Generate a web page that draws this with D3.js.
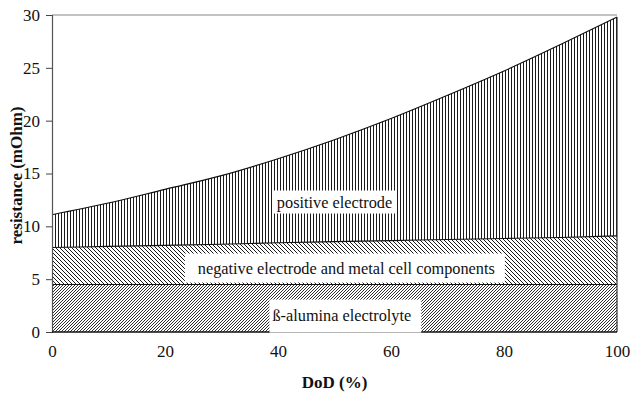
<!DOCTYPE html>
<html>
<head>
<meta charset="utf-8">
<script src="https://cdn.jsdelivr.net/npm/d3@7"></script>
<style>
  html, body { margin: 0; padding: 0; background: #fff; }
  svg { display: block; }
  svg text { font-family: "Liberation Serif", "DejaVu Serif", serif; fill: #111; }
</style>
</head>
<body>
<svg id="chart" width="630" height="394"></svg>
<script>
// Depth of discharge (%)
const dod = [0, 10, 20, 30, 40, 50, 60, 70, 80, 90, 100];
// Resistance contributions (mOhm), stacked bottom to top
const aluminaElectrolyte = [4.5, 4.5, 4.5, 4.5, 4.5, 4.5, 4.5, 4.5, 4.5, 4.5, 4.5];
const negativeElectrode = [3.5, 3.6, 3.7, 3.8, 3.95, 4.05, 4.15, 4.25, 4.35, 4.45, 4.6];
const positiveElectrode = [3.1, 4.1, 5.3, 6.5, 7.95, 9.65, 11.55, 13.65, 15.85, 18.25, 20.7];

const xTicks = [0, 20, 40, 60, 80, 100];
const yTicks = [0, 5, 10, 15, 20, 25, 30];

const layerNames = ["alumina", "negative", "positive"];
const layerLabels = {
  alumina: "ß-alumina electrolyte",
  negative: "negative electrode and metal cell components",
  positive: "positive electrode"
};
// label anchor in data units (DoD, resistance) and box padding [left, right, top, bottom] in px
const labelPos = {
  alumina: [51.3, 1.6],
  negative: [52.1, 6.05],
  positive: [50, 12.3]
};
const labelPad = {
  alumina: [3, 10, 6, 8],
  negative: [13, 10, 5, 5],
  positive: [4, 3, 2, 2]
};

const rows = dod.map((d, i) => ({
  dod: d,
  alumina: aluminaElectrolyte[i],
  negative: negativeElectrode[i],
  positive: positiveElectrode[i]
}));

const svg = d3.select("#chart");
const margin = { left: 52, right: 13, top: 15, bottom: 62 };
const W = 630, H = 394;

const x = d3.scaleLinear().domain([0, 100]).range([margin.left, W - margin.right]);
const y = d3.scaleLinear().domain([0, 30]).range([H - margin.bottom, margin.top]);

// hatch patterns
const defs = svg.append("defs");
function hatch(id, size, path, width) {
  const p = defs.append("pattern")
    .attr("id", id)
    .attr("patternUnits", "userSpaceOnUse")
    .attr("width", size).attr("height", size);
  p.append("rect").attr("width", size).attr("height", size).attr("fill", "#fff");
  p.append("path").attr("d", path).attr("stroke", "#1a1a1a")
    .attr("stroke-width", width).attr("fill", "none");
}
// vertical lines
hatch("h-pos", 3, "M1.5,0V3", 1);
// "\\" lines
hatch("h-neg", 4, "M-1,-1L5,5M-1,3L1,5M3,-1L5,1", 1);
// "//" lines
hatch("h-alu", 3, "M-1,4L4,-1M-1,1L1,-1M2,4L4,2", 0.9);

const stack = d3.stack().keys(layerNames);
const series = stack(rows);

const area = d3.area()
  .x(d => x(d.data.dod))
  .y0(d => y(d[0]))
  .y1(d => y(d[1]))
  .curve(d3.curveMonotoneX);

const line = d3.line()
  .x(d => x(d.data.dod))
  .y(d => y(d[1]))
  .curve(d3.curveMonotoneX);

const fills = { alumina: "url(#h-alu)", negative: "url(#h-neg)", positive: "url(#h-pos)" };

svg.append("g").selectAll("path.layer")
  .data(series)
  .join("path")
  .attr("class", "layer")
  .attr("d", area)
  .attr("fill", s => fills[s.key]);

svg.append("g").selectAll("path.edge")
  .data(series)
  .join("path")
  .attr("class", "edge")
  .attr("d", line)
  .attr("fill", "none")
  .attr("stroke", "#111")
  .attr("stroke-width", 1.1);

// right edge of the stack
const topSeries = series[series.length - 1];
svg.append("line")
  .attr("x1", x(100)).attr("x2", x(100))
  .attr("y1", y(topSeries[topSeries.length - 1][1])).attr("y2", y(0))
  .attr("stroke", "#333").attr("stroke-width", 1.2);

// top frame line
svg.append("line")
  .attr("x1", x(0)).attr("x2", x(100))
  .attr("y1", y(30)).attr("y2", y(30))
  .attr("stroke", "#888").attr("stroke-width", 1.2);

// y axis
const yAxis = d3.axisLeft(y).tickValues(yTicks).tickSize(6).tickPadding(6);
const gy = svg.append("g").attr("transform", `translate(${x(0)},0)`).call(yAxis);
gy.attr("font-family", null);
gy.select(".domain").attr("stroke", "#555").attr("stroke-width", 1.2);
gy.selectAll(".tick line").attr("stroke", "#444");
gy.selectAll(".tick text").attr("font-size", 17).attr("fill", "#111");

// x axis (labels only, baseline drawn as a line)
const xAxis = d3.axisBottom(x).tickValues(xTicks).tickSize(0).tickPadding(13);
const gx = svg.append("g").attr("transform", `translate(0,${y(0)})`).call(xAxis);
gx.attr("font-family", null);
gx.select(".domain").remove();
gx.selectAll(".tick text").attr("font-size", 17).attr("fill", "#111");
svg.append("line")
  .attr("x1", x(0)).attr("x2", x(100))
  .attr("y1", y(0)).attr("y2", y(0))
  .attr("stroke", "#111").attr("stroke-width", 1.3);

// layer labels on white boxes
const lg = svg.append("g");
layerNames.forEach(k => {
  const [lx, ly] = labelPos[k];
  const [pl, pr, pt, pb] = labelPad[k];
  const g = lg.append("g");
  const t = g.append("text")
    .attr("x", x(lx)).attr("y", y(ly))
    .attr("text-anchor", "middle")
    .attr("dominant-baseline", "central")
    .attr("font-size", 16.3)
    .text(layerLabels[k]);
  const b = t.node().getBBox();
  g.insert("rect", "text")
    .attr("x", b.x - pl).attr("y", b.y - pt)
    .attr("width", b.width + pl + pr).attr("height", b.height + pt + pb)
    .attr("fill", "#fff");
});

// axis titles
svg.append("text")
  .attr("x", x(50)).attr("y", 388)
  .attr("text-anchor", "middle")
  .attr("font-size", 17).attr("font-weight", "bold")
  .text("DoD (%)");

svg.append("text")
  .attr("transform", `translate(22,${y(15) + 2}) rotate(-90)`)
  .attr("text-anchor", "middle")
  .attr("font-size", 17).attr("font-weight", "bold")
  .text("resistance (mOhm)");
</script>
</body>
</html>
